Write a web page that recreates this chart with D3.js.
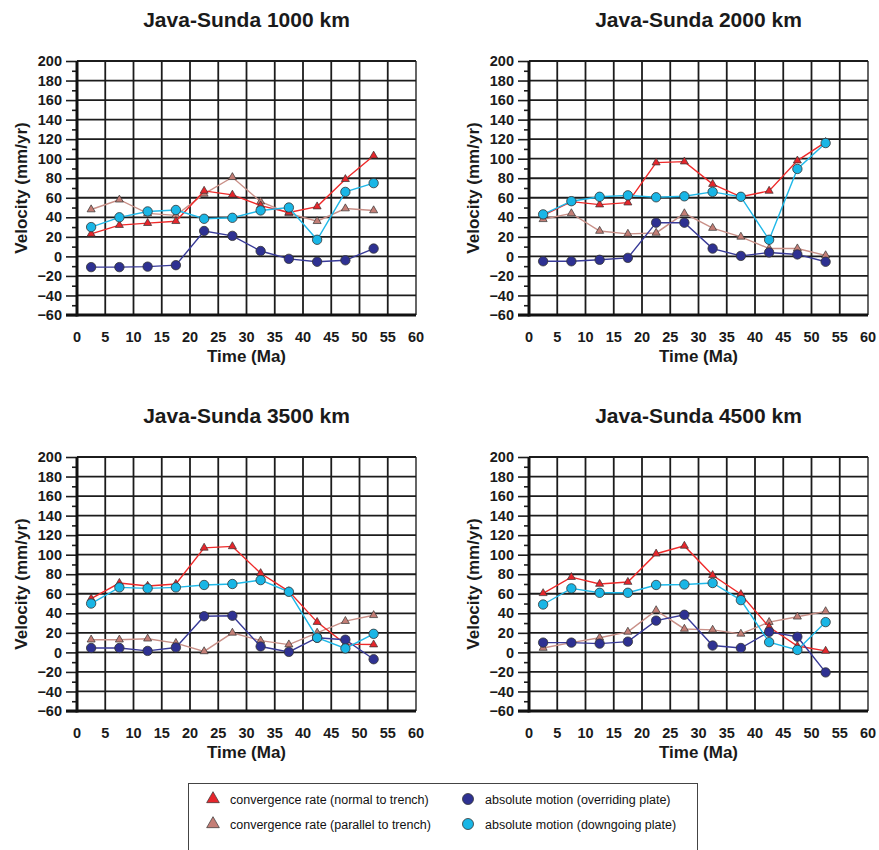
<!DOCTYPE html>
<html>
<head>
<meta charset="utf-8">
<script src="https://cdnjs.cloudflare.com/ajax/libs/d3/7.8.5/d3.min.js"></script>
<style>
    body { margin: 0; background: #fff; }
    svg text { font-family: "Liberation Sans", Arial, Helvetica, sans-serif; fill: #111; }
    .panel-title { font-size: 21px; font-weight: bold; fill: #1a1a1a; }
    .tick-label { font-size: 14.5px; font-weight: bold; fill: #1a1a1a; }
    .axis-title { font-size: 17px; font-weight: bold; fill: #1a1a1a; }
    .legend-label { font-size: 12.5px; }
</style>
</head>
<body>
<div id="chart"></div>
<script>

// ages of the stage midpoints (Ma)
var time = [2.5, 7.5, 12.5, 17.5, 22.5, 27.5, 32.5, 37.5, 42.5, 47.5, 52.5];

var xTickValues = [0, 5, 10, 15, 20, 25, 30, 35, 40, 45, 50, 55, 60];
var yTickValues = [-60, -40, -20, 0, 20, 40, 60, 80, 100, 120, 140, 160, 180, 200];

var titles = ["Java-Sunda 1000 km", "Java-Sunda 2000 km", "Java-Sunda 3500 km", "Java-Sunda 4500 km"];

var seriesNames = [
    "convergence rate (normal to trench)",
    "convergence rate (parallel to trench)",
    "absolute motion (overriding plate)",
    "absolute motion (downgoing plate)"
];

// 1000 km
var normal1000     = [23, 32, 34, 36, 67, 63, 52, 45, 51, 79, 103];
var parallel1000   = [48, 58, 44, 42, 64, 81, 56, 44, 36, 49, 47];
var overriding1000 = [-11, -11, -10.5, -9, 26, 21, 5.5, -2.5, -5.5, -4, 8];
var downgoing1000  = [30, 40, 46, 47.5, 38.5, 39.5, 47, 50, 17, 66, 75];

// 2000 km
var normal2000     = [42, 56, 53, 55, 96, 97, 74, 61, 67, 98, 117];
var parallel2000   = [38, 44, 26, 23, 24, 44, 29, 20, 8, 8, 1];
var overriding2000 = [-5, -5, -3.5, -1.5, 34.5, 34.5, 8, 0.5, 4, 2, -5.5];
var downgoing2000  = [43, 56.5, 61, 62.5, 60.5, 61.5, 66, 61, 17, 89.5, 116];

// 3500 km
var normal3500     = [55, 71, 68, 70, 107, 108.5, 81, 62.5, 31, 8.5, 8];
var parallel3500   = [13, 13, 14, 9.5, 1, 20, 12, 8, 20, 32, 38];
var overriding3500 = [4.5, 4.5, 1.5, 5, 37, 37.5, 6, 0.5, 15, 13, -7];
var downgoing3500  = [50, 66.5, 65.5, 66.5, 69, 70, 74, 62, 15, 4, 19];

// 4500 km
var normal4500     = [60.5, 77, 70, 72, 101, 109, 79, 59.5, 26, 6.5, 1.5];
var parallel4500   = [4.5, 10, 15, 21, 43, 24, 23, 19, 31, 36.5, 42];
var overriding4500 = [10, 10, 9, 11, 32.5, 38.5, 7, 4.5, 21, 16, -20.5];
var downgoing4500  = [49, 65.5, 61, 61, 69, 69.5, 71, 53.5, 10.5, 2.5, 31];


// drawing styles, in draw order (parallel first, downgoing on top)
var styles = {
    normal:     { line: "#ee2a2a", fill: "#e6262c", symbol: "triangle" },
    parallel:   { line: "#c99088", fill: "#c47e76", symbol: "triangle" },
    overriding: { line: "#383a98", fill: "#2e3192", symbol: "circle" },
    downgoing:  { line: "#1fb8e8", fill: "#19b6e6", symbol: "circle" }
};
var drawOrder = ["parallel", "normal", "overriding", "downgoing"];

var panels = [
    { title: titles[0], left: 77,  top: 61,  series: { normal: normal1000, parallel: parallel1000, overriding: overriding1000, downgoing: downgoing1000 } },
    { title: titles[1], left: 529, top: 61,  series: { normal: normal2000, parallel: parallel2000, overriding: overriding2000, downgoing: downgoing2000 } },
    { title: titles[2], left: 77,  top: 457, series: { normal: normal3500, parallel: parallel3500, overriding: overriding3500, downgoing: downgoing3500 } },
    { title: titles[3], left: 529, top: 457, series: { normal: normal4500, parallel: parallel4500, overriding: overriding4500, downgoing: downgoing4500 } }
];


var svg = d3.select("#chart").append("svg")
    .attr("width", 879)
    .attr("height", 850);


VelocityPanel = function(_svg, _panel){
    this.svg = _svg;
    this.panel = _panel;

    this.initVis();
}

/*
 * Scales, grid and axes
 */

VelocityPanel.prototype.initVis = function(){
    var vis = this;

    vis.width = 339;
    vis.height = 254;

    vis.g = vis.svg.append("g")
        .attr("transform", "translate(" + vis.panel.left + "," + vis.panel.top + ")");

    vis.x = d3.scaleLinear().domain([0, 60]).range([0, vis.width]);
    vis.y = d3.scaleLinear().domain([-60, 200]).range([vis.height, 0]);

    // grid
    vis.g.selectAll(".vgrid")
        .data(xTickValues)
        .enter().append("line")
        .attr("x1", function(d) { return vis.x(d); })
        .attr("x2", function(d) { return vis.x(d); })
        .attr("y1", 0)
        .attr("y2", vis.height)
        .attr("stroke", function(d) { return d === 60 ? "#555" : "#1c1c1c"; })
        .attr("stroke-width", 1.8);

    vis.g.selectAll(".hgrid")
        .data(yTickValues)
        .enter().append("line")
        .attr("x1", 0)
        .attr("x2", vis.width)
        .attr("y1", function(d) { return vis.y(d); })
        .attr("y2", function(d) { return vis.y(d); })
        .attr("stroke", "#1c1c1c")
        .attr("stroke-width", 1.8);

    // y axis: major ticks every 20, minor every 10
    var yAxis = d3.axisLeft(vis.y)
        .tickValues(yTickValues)
        .tickSize(11)
        .tickPadding(4)
        .tickFormat(d3.format("d"));

    var ya = vis.g.append("g").call(yAxis);
    ya.select(".domain").remove();
    ya.selectAll(".tick line").attr("stroke", "#1c1c1c").attr("stroke-width", 1.6);
    ya.selectAll(".tick text").attr("class", "tick-label").attr("fill", null);
    ya.attr("font-size", null).attr("font-family", null);

    var yMinor = d3.axisLeft(vis.y)
        .tickValues(d3.range(-50, 200, 20))
        .tickSize(5)
        .tickFormat("");
    var ym = vis.g.append("g").call(yMinor);
    ym.select(".domain").remove();
    ym.selectAll(".tick line").attr("stroke", "#1c1c1c").attr("stroke-width", 1.6);

    // thick left and bottom axis lines
    vis.g.append("line")
        .attr("x1", 0).attr("x2", 0)
        .attr("y1", 0).attr("y2", vis.height + 1.5)
        .attr("stroke", "#111").attr("stroke-width", 3);
    vis.g.append("line")
        .attr("x1", -11).attr("x2", vis.width)
        .attr("y1", vis.height).attr("y2", vis.height)
        .attr("stroke", "#111").attr("stroke-width", 3);

    // x labels
    vis.g.selectAll(".xlabel")
        .data(xTickValues)
        .enter().append("text")
        .attr("class", "tick-label")
        .attr("x", function(d) { return vis.x(d); })
        .attr("y", vis.height + 27)
        .attr("text-anchor", "middle")
        .text(function(d) { return d; });

    vis.g.append("text")
        .attr("class", "axis-title")
        .attr("x", vis.width / 2)
        .attr("y", vis.height + 47)
        .attr("text-anchor", "middle")
        .text("Time (Ma)");

    vis.g.append("text")
        .attr("class", "axis-title")
        .attr("transform", "translate(-50," + (vis.height / 2) + ") rotate(-90)")
        .attr("text-anchor", "middle")
        .text("Velocity (mm/yr)");

    vis.g.append("text")
        .attr("class", "panel-title")
        .attr("x", vis.width / 2)
        .attr("y", -34)
        .attr("text-anchor", "middle")
        .text(vis.panel.title);

    vis.updateVis();
}

/*
 * Lines and markers
 */

VelocityPanel.prototype.updateVis = function(){
    var vis = this;

    var line = d3.line()
        .x(function(d, i) { return vis.x(time[i]); })
        .y(function(d) { return vis.y(d); });

    drawOrder.forEach(function(key) {
        var values = vis.panel.series[key];
        var st = styles[key];

        vis.g.append("path")
            .datum(values)
            .attr("d", line)
            .attr("fill", "none")
            .attr("stroke", st.line)
            .attr("stroke-width", 1.4);

        if (st.symbol === "circle") {
            vis.g.selectAll(".c-" + key)
                .data(values)
                .enter().append("circle")
                .attr("cx", function(d, i) { return vis.x(time[i]); })
                .attr("cy", function(d) { return vis.y(d); })
                .attr("r", 4.7)
                .attr("fill", st.fill)
                .attr("stroke", "#333")
                .attr("stroke-width", 0.8);
        } else {
            vis.g.selectAll(".t-" + key)
                .data(values)
                .enter().append("path")
                .attr("d", d3.symbol().type(d3.symbolTriangle).size(28))
                .attr("transform", function(d, i) { return "translate(" + vis.x(time[i]) + "," + vis.y(d) + ")"; })
                .attr("fill", st.fill)
                .attr("stroke", "#333")
                .attr("stroke-width", 0.7);
        }
    });
}


panels.forEach(function(p) { new VelocityPanel(svg, p); });


// legend
var legend = svg.append("g");

legend.append("rect")
    .attr("x", 188.5).attr("y", 783.5)
    .attr("width", 509).attr("height", 80)
    .attr("fill", "none")
    .attr("stroke", "#444")
    .attr("stroke-width", 1);

var legendItems = [
    { name: seriesNames[0], key: "normal",     x: 213, y: 799 },
    { name: seriesNames[1], key: "parallel",   x: 213, y: 824 },
    { name: seriesNames[2], key: "overriding", x: 468, y: 799 },
    { name: seriesNames[3], key: "downgoing",  x: 468, y: 824 }
];

legendItems.forEach(function(item) {
    var st = styles[item.key];
    if (st.symbol === "circle") {
        legend.append("circle")
            .attr("cx", item.x).attr("cy", item.y)
            .attr("r", 5.5)
            .attr("fill", st.fill)
            .attr("stroke", "#333")
            .attr("stroke-width", 0.8);
    } else {
        legend.append("path")
            .attr("d", d3.symbol().type(d3.symbolTriangle).size(70))
            .attr("transform", "translate(" + item.x + "," + item.y + ")")
            .attr("fill", st.fill)
            .attr("stroke", "#333")
            .attr("stroke-width", 0.7);
    }
    legend.append("text")
        .attr("class", "legend-label")
        .attr("x", item.x + 17)
        .attr("y", item.y + 4.5)
        .text(item.name);
});

</script>
</body>
</html>
